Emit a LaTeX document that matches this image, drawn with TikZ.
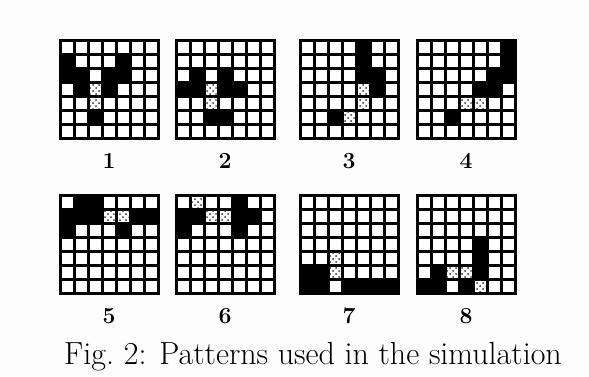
\documentclass[tikz,border=0pt]{standalone}
\usepackage{tikz}
\usetikzlibrary{patterns}
\definecolor{paper}{RGB}{253,253,253}

% one 7x7 pattern: name, left, top, black cells c/r, checker cells c/r, number
\newcommand{\patgrid}[6]{%
  \fill[black] (#2-1.5,#3-1.5) rectangle (#2+99.5,#3+99.5);
  \foreach \c in {0,...,6}
    \foreach \r in {0,...,6}
      \fill[white] (#2+14*\c+1.5,#3+14*\r+1.5) rectangle ++(11,11);
  \foreach \c/\r in {#4}
    \fill[black] (#2+14*\c-14,#3+14*\r-14) rectangle ++(14,14);
  \foreach \c/\r in {#5}
    \fill[checker] (#2+14*\c-12.5,#3+14*\r-12.5) rectangle ++(11,11);
  \node[numlabel] (#1) at (#2+49,#3+121) {#6};
}

\begin{document}
\begin{tikzpicture}[x=0.5pt, y=-0.5pt,
    checker/.style={pattern=crosshatch dots, pattern color=black!80},
    numlabel/.style={font=\fontsize{11.5}{13}\selectfont\bfseries}]
  \fill[paper] (0,0) rectangle (589,376);
  \useasboundingbox (0,0) rectangle (589,376);

  % top row
  \patgrid{p1}{60}{40}{1/2,5/2,1/3,2/3,4/3,5/3,2/4,4/4,3/6}{3/4,3/5}{1}
  \patgrid{p2}{176}{40}{2/3,4/3,1/4,2/4,4/4,5/4,3/6,4/6}{3/4,3/5}{2}
  \patgrid{p3}{300}{40}{5/1,5/2,5/3,6/3,6/4,3/6}{5/4,5/5,4/6}{3}
  \patgrid{p4}{417}{40}{7/1,7/2,6/3,7/3,5/4,6/4,3/6}{4/5,5/5}{4}

  % bottom row
  \patgrid{p5}{60}{195}{2/1,3/1,1/2,2/2,3/2,6/2,7/2,1/3,5/3}{4/2,5/2}{5}
  \patgrid{p6}{176}{195}{5/1,1/2,2/2,5/2,6/2,1/3,5/3}{2/1,3/2,4/2}{6}
  \patgrid{p7}{300}{195}{1/6,2/6,1/7,2/7,4/7,5/7,6/7,7/7}{3/5,3/6}{7}
  \patgrid{p8}{417}{195}{5/4,5/5,2/6,5/6,1/7,2/7,4/7}{3/6,4/6,5/7}{8}

  \node[font=\fontsize{16}{18}\selectfont] (caption) at (313,357)
    {Fig.~2: Patterns used in the simulation};
\end{tikzpicture}
\end{document}
